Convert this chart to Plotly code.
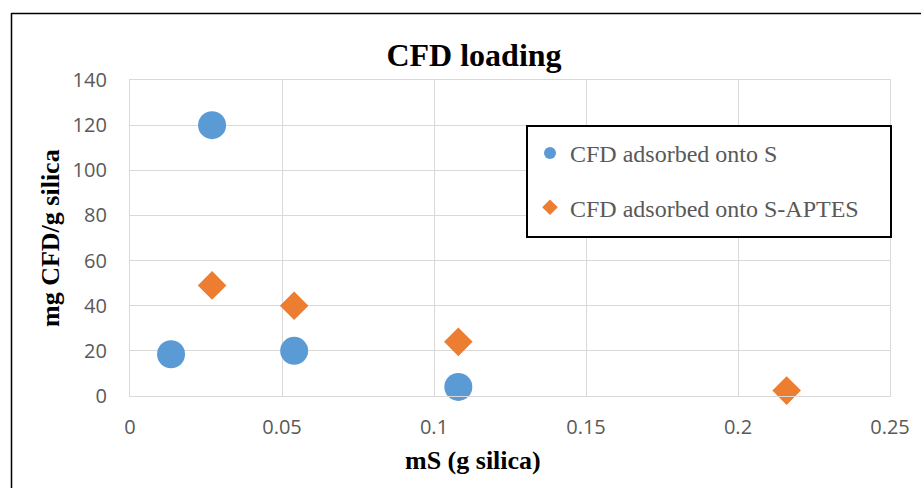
import plotly.graph_objects as go

# Silica mass (g) and CFD loading (mg CFD / g silica)
ms_bare = [0.0135, 0.027, 0.054, 0.108]
load_bare = [18.5, 120, 20, 4]
ms_aptes = [0.027, 0.054, 0.108, 0.216]
load_aptes = [49, 40, 24, 2.4]

series_names = ["CFD adsorbed onto S", "CFD adsorbed onto S-APTES"]
x_ticks = [0, 0.05, 0.1, 0.15, 0.2, 0.25]
y_ticks = [0, 20, 40, 60, 80, 100, 120, 140]

BLUE = "#5B9BD5"
ORANGE = "#ED7D31"
GRID = "#D9D9D9"
TICK_FONT = dict(family="Open Sans, Liberation Sans, sans-serif", size=20, color="#595959")
SERIF = "Liberation Serif, Times New Roman, serif"

W, H = 921, 488
ML, MR, MT, MB = 130, 31, 80, 92
PW, PH = W - ML - MR, H - MT - MB


def px_x(p):
    return (p - ML) / PW


def px_y(p):
    return (H - MB - p) / PH


fig = go.Figure()
fig.add_trace(go.Scatter(
    x=ms_bare, y=load_bare, mode="markers", name=series_names[0],
    legendgroup="s", cliponaxis=False,
    marker=dict(symbol="circle", size=28, color=BLUE),
))
fig.add_trace(go.Scatter(
    x=ms_aptes, y=load_aptes, mode="markers", name=series_names[1],
    legendgroup="a", cliponaxis=False,
    marker=dict(symbol="diamond", size=22, color=ORANGE),
))

axis_common = dict(
    showgrid=True, gridcolor=GRID, gridwidth=1.3,
    showline=True, linecolor=GRID, linewidth=1.3, mirror=True,
    zeroline=False, ticks="", tickfont=TICK_FONT,
)

fig.update_xaxes(range=[0, 0.25], tickvals=x_ticks, ticklabelstandoff=13, **axis_common)
fig.update_yaxes(range=[0, 140], tickvals=y_ticks, ticklabelstandoff=18, **axis_common)

fig.update_layout(
    width=W, height=H,
    margin=dict(l=ML, r=MR, t=MT, b=MB),
    paper_bgcolor="white", plot_bgcolor="white",
    title=dict(
        text="<b>CFD loading</b>", x=px_x(474), xref="paper", xanchor="center",
        y=1 - 55 / H, yanchor="middle",
        font=dict(family=SERIF, size=32, color="black"),
    ),
    legend=dict(
        x=px_x(530), y=px_y(131), xanchor="left", yanchor="top",
        borderwidth=0, bgcolor="rgba(0,0,0,0)",
        font=dict(family=SERIF, size=24, color="#595959"),
        traceorder="grouped", tracegroupgap=20, itemsizing="constant",
    ),
    annotations=[
        dict(text="<b>mg CFD/g silica</b>", xref="paper", yref="paper",
             x=px_x(50), y=0.5, xanchor="center", yanchor="middle",
             textangle=-90, showarrow=False,
             font=dict(family=SERIF, size=26, color="black")),
        dict(text="<b>mS (g silica)</b>", xref="paper", yref="paper",
             x=px_x(473), y=px_y(460), xanchor="center", yanchor="middle",
             showarrow=False,
             font=dict(family=SERIF, size=26, color="black")),
    ],
    shapes=[
        # legend frame
        dict(type="rect", xref="paper", yref="paper",
             x0=px_x(527), x1=px_x(891), y0=px_y(126), y1=px_y(237),
             fillcolor="white", line=dict(color="black", width=2), layer="above"),
        # chart-area frame (left and top edges)
        dict(type="line", xref="paper", yref="paper",
             x0=px_x(11.5), x1=px_x(11.5), y0=px_y(13), y1=px_y(500),
             line=dict(color="black", width=1.5)),
        dict(type="line", xref="paper", yref="paper",
             x0=px_x(11.5), x1=px_x(940), y0=px_y(13.5), y1=px_y(13.5),
             line=dict(color="black", width=1.5)),
    ],
)

fig.write_html("out.html")
